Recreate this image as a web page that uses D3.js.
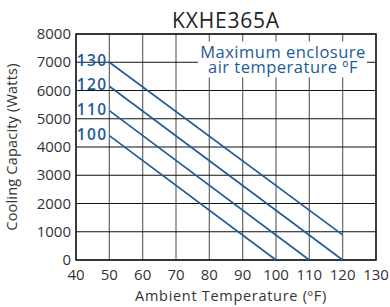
<!DOCTYPE html>
<html>
<head>
<meta charset="utf-8">
<script src="https://cdn.jsdelivr.net/npm/d3@7"></script>
<style>
  body { margin: 0; background: #fff; }
  text { font-family: "Open Sans", sans-serif; }
</style>
</head>
<body>
<div id="chart"></div>
<script>
// curves: [ambient temp, watts] endpoints
var seriesNames = ["130", "120", "110", "100"];
var series130 = [[50, 7000], [120, 890]];
var series120 = [[50, 6150], [120, 0]];
var series110 = [[50, 5290], [110, 0]];
var series100 = [[50, 4400], [100, 0]];
var xTicks = [40, 50, 60, 70, 80, 90, 100, 110, 120, 130];
var yTicks = [0, 1000, 2000, 3000, 4000, 5000, 6000, 7000, 8000];

var allSeries = [series130, series120, series110, series100];
var blue = "#1d5a9c";

var svg = d3.select("#chart").append("svg").attr("width", 390).attr("height", 307);

var x = d3.scaleLinear().domain([40, 130]).range([76, 376]);
var y = d3.scaleLinear().domain([0, 8000]).range([260, 34]);

// grid
svg.append("g").selectAll("line.v").data(xTicks).enter()
    .append("line")
    .attr("x1", function(d){ return x(d); }).attr("x2", function(d){ return x(d); })
    .attr("y1", y(8000)).attr("y2", y(0))
    .attr("stroke", "#666").attr("stroke-width", 1.2);

svg.append("g").selectAll("line.h").data(yTicks).enter()
    .append("line")
    .attr("x1", x(40)).attr("x2", x(130))
    .attr("y1", function(d){ return y(d); }).attr("y2", function(d){ return y(d); })
    .attr("stroke", "#111").attr("stroke-width", 1.2);

// frame
svg.append("rect")
    .attr("x", x(40)).attr("y", y(8000))
    .attr("width", x(130) - x(40)).attr("height", y(0) - y(8000))
    .attr("fill", "none").attr("stroke", "#222").attr("stroke-width", 1.6);

// legend box (white behind text)
svg.append("rect").attr("x", 198).attr("y", 41.5).attr("width", 169).attr("height", 36).attr("fill", "#fff");
var leg = svg.append("text").attr("text-anchor", "middle")
    .attr("font-size", 16.5).attr("letter-spacing", 0.5).attr("fill", blue);
leg.append("tspan").attr("x", 283).attr("y", 58).text("Maximum enclosure");
leg.append("tspan").attr("x", 283).attr("y", 73).text("air temperature ºF");

// lines
var line = d3.line().x(function(d){ return x(d[0]); }).y(function(d){ return y(d[1]); });
svg.append("g").selectAll("path").data(allSeries).enter()
    .append("path")
    .attr("d", line)
    .attr("fill", "none").attr("stroke", blue).attr("stroke-width", 1.6);

// series labels
svg.append("g").selectAll("text").data(allSeries).enter()
    .append("text")
    .attr("x", x(50) - 2)
    .attr("y", function(d){ return y(d[0][1]) + 4; })
    .attr("text-anchor", "end")
    .attr("font-size", 15.5).attr("font-weight", 600).attr("letter-spacing", 1.3).attr("fill", blue)
    .text(function(d, i){ return seriesNames[i]; });

// tick labels
svg.append("g").selectAll("text").data(xTicks).enter()
    .append("text")
    .attr("x", function(d){ return x(d); }).attr("y", 279.5)
    .attr("text-anchor", "middle").attr("font-size", 15).attr("fill", "#333")
    .text(function(d){ return d; });

svg.append("g").selectAll("text").data(yTicks).enter()
    .append("text")
    .attr("x", 71).attr("y", function(d){ return y(d) + 5; })
    .attr("text-anchor", "end").attr("font-size", 15).attr("fill", "#333")
    .text(function(d){ return d; });

// titles
svg.append("text").attr("x", 226).attr("y", 27.5).attr("text-anchor", "middle")
    .attr("font-size", 21).attr("letter-spacing", 0.8).attr("fill", "#222").text("KXHE365A");
svg.append("text").attr("x", 231).attr("y", 301).attr("text-anchor", "middle")
    .attr("font-size", 14.5).attr("letter-spacing", 0.7).attr("fill", "#333").text("Ambient Temperature (ºF)");
svg.append("text").attr("transform", "translate(17,147) rotate(-90)").attr("text-anchor", "middle")
    .attr("font-size", 14.5).attr("letter-spacing", 0.2).attr("fill", "#333").text("Cooling Capacity (Watts)");
</script>
</body>
</html>
